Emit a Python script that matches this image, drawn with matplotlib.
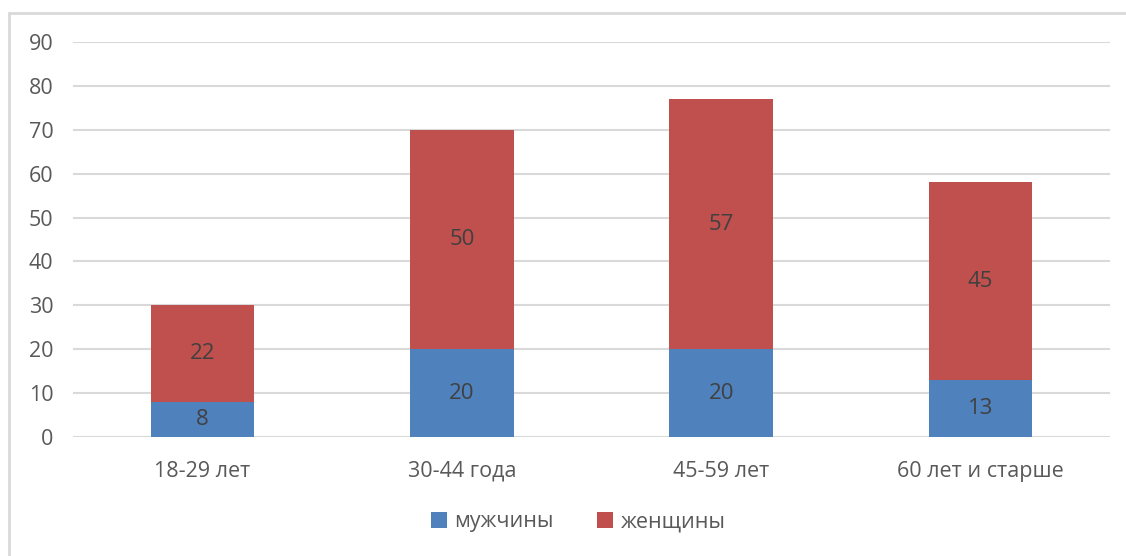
import matplotlib.pyplot as plt
from matplotlib.patches import Rectangle

categories = ['18-29 лет', '30-44 года', '45-59 лет', '60 лет и старше']
men = [8, 20, 20, 13]
women = [22, 50, 57, 45]

blue = '#4f81bd'
red = '#c0504d'
txt = '#595959'

plt.rcParams['font.family'] = ['Open Sans', 'DejaVu Sans']

fig = plt.figure(figsize=(11.26, 5.56), dpi=100)
# outer chart border
fig.patches.append(Rectangle((9/1126, -0.1), 1.2, 1 - 13/556 + 0.1, transform=fig.transFigure,
                             fill=False, edgecolor='#d9d9d9', linewidth=2))
ax = fig.add_axes([73/1126, 1 - 437/556, (1110 - 73)/1126, (437 - 42)/556])

x = range(len(categories))
b1 = ax.bar(x, men, width=0.4, color=blue, label='мужчины', zorder=3)
b2 = ax.bar(x, women, width=0.4, bottom=men, color=red, label='женщины', zorder=3)

for bars, vals, base in [(b1, men, [0]*4), (b2, women, men)]:
    for bar, v, b in zip(bars, vals, base):
        ax.text(bar.get_x() + bar.get_width()/2, b + v/2, str(v), ha='center', va='center',
                fontsize=16, color='#404040', zorder=4)

ax.set_xlim(-0.5, 3.5)
ax.set_ylim(0, 90)
ax.set_yticks(range(0, 91, 10))
ax.set_xticks(list(x))
ax.set_xticklabels(categories)
ax.grid(axis='y', color='#d9d9d9', linewidth=1.5, zorder=0)
for s in ax.spines.values():
    s.set_visible(False)
ax.tick_params(axis='both', length=0, labelsize=15.5, colors=txt)
ax.tick_params(axis='x', pad=17)
ax.tick_params(axis='y', pad=14)

fig.legend(loc='center', bbox_to_anchor=(578/1126, 1 - 522/556), ncol=2, frameon=False,
           fontsize=15.5, labelcolor=txt, handlelength=0.75, handleheight=0.75,
           handletextpad=0.35, columnspacing=2.0)

fig.savefig('out.png', dpi=100)
